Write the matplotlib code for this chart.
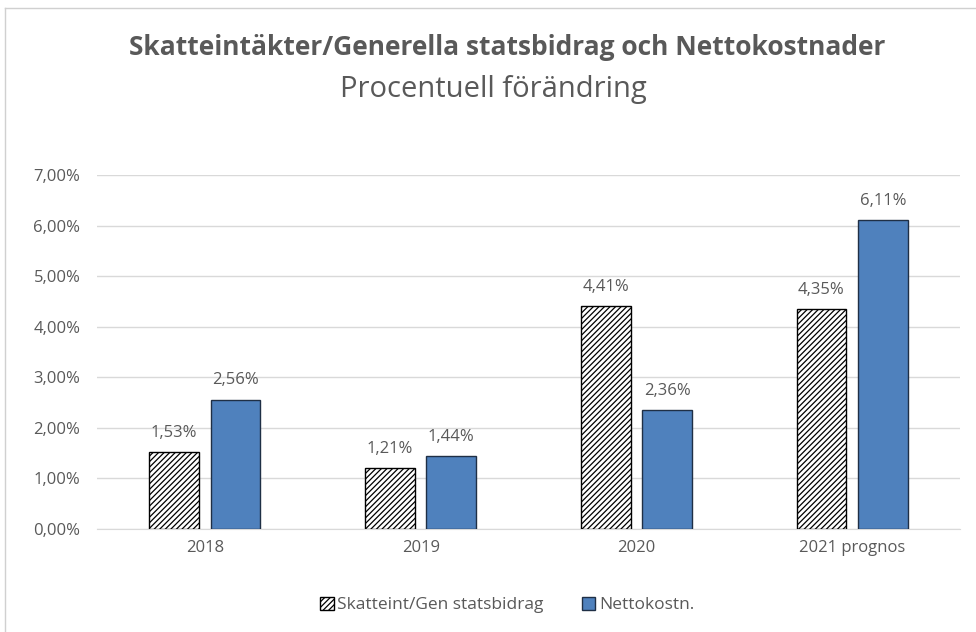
import matplotlib.pyplot as plt
import numpy as np

categories = ["2018", "2019", "2020", "2021 prognos"]
skatt = [1.53, 1.21, 4.41, 4.35]
netto = [2.56, 1.44, 2.36, 6.11]
labels = ["Skatteint/Gen statsbidrag", "Nettokostn."]

gray = "#595959"
plt.rcParams["font.family"] = ["Open Sans", "DejaVu Sans"]
plt.rcParams["hatch.linewidth"] = 0.9

fig = plt.figure(figsize=(9.76, 6.32), dpi=100)
ax = fig.add_axes([0.0994, 0.163, 0.8842, 0.560])

x = np.arange(len(categories))
w = 0.23
gap = 0.027
b1 = ax.bar(x - gap - w / 2, np.array(skatt) / 100, w,
            color="white", edgecolor="black", hatch="//////", linewidth=1.0, label=labels[0], zorder=3)
b2 = ax.bar(x + gap + w / 2, np.array(netto) / 100, w,
            color="#4F81BD", edgecolor="#1f2f45", linewidth=1.0, label=labels[1], zorder=3)

for bars, vals in ((b1, skatt), (b2, netto)):
    for r, v in zip(bars, vals):
        ax.annotate(f"{v:.2f}%".replace(".", ","), (r.get_x() + r.get_width() / 2, r.get_height()),
                    xytext=(0, 8), textcoords="offset points", ha="center", va="bottom",
                    fontsize=12, color=gray)

ax.set_xlim(-0.5, 3.5)
ax.set_ylim(0, 0.07)
ax.set_yticks(np.arange(0, 0.071, 0.01))
ax.set_yticklabels([f"{t:.2f}%".replace(".", ",") for t in np.arange(0, 7.1, 1.0)])
ax.set_xticks(x)
ax.set_xticklabels(categories)
ax.tick_params(colors=gray, labelsize=12, length=0)
ax.tick_params(axis="y", pad=12)
ax.tick_params(axis="x", pad=8)
ax.yaxis.grid(True, color="#d9d9d9", linewidth=1, zorder=0)
for s in ["top", "right", "left"]:
    ax.spines[s].set_visible(False)
ax.spines["bottom"].set_color("#d9d9d9")

fig.text(0.52, 0.925, "Skatteintäkter/Generella statsbidrag och Nettokostnader",
         ha="center", va="center", fontsize=19, fontweight="bold", color=gray)
fig.text(0.505, 0.859, "Procentuell förändring", ha="center", va="center", fontsize=21, color=gray)

ax.legend(loc="center", bbox_to_anchor=(0.475, -0.215), ncol=2, frameon=False,
          fontsize=12.5, labelcolor=gray, handlelength=0.8, handleheight=0.8,
          handletextpad=0.2, columnspacing=2.2)

# chart border (partial, as in screenshot)
fig.add_artist(plt.Line2D([0.005, 1], [0.987, 0.987], color="#d0d0d0", lw=1))
fig.add_artist(plt.Line2D([0.005, 0.005], [0, 0.987], color="#d0d0d0", lw=1))

fig.savefig("out.png", dpi=100)
